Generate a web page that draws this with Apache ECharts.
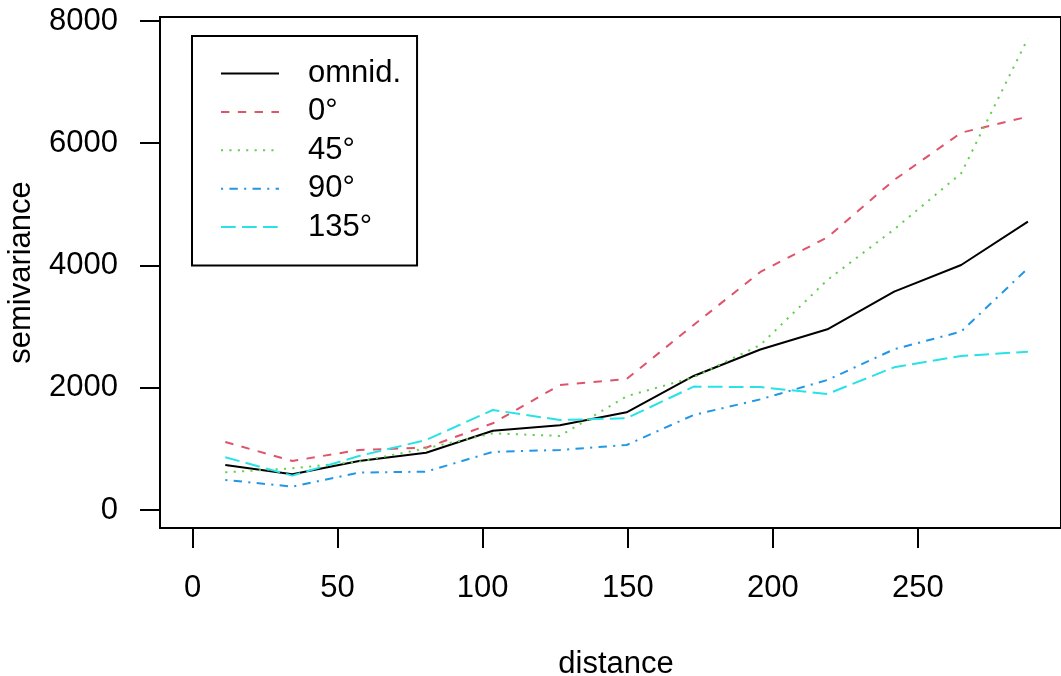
<!DOCTYPE html>
<html>
<head>
<meta charset="utf-8">
<script src="https://cdn.jsdelivr.net/npm/echarts@6/dist/echarts.min.js"></script>
<style>
html,body{margin:0;padding:0;background:#fff;}
#chart{width:1061px;height:676px;}
</style>
</head>
<body>
<div id="chart"></div>
<script>
// ---- data ----
const distances = [11.3, 34.4, 57.4, 80.5, 103.5, 126.6, 149.6, 172.7, 195.7, 218.8, 241.8, 264.9, 287.9];
const omnid   = [736, 584, 800, 937, 1295, 1385, 1598, 2192, 2625, 2956, 3572, 4008, 4717];
const dir0    = [1112, 802, 982, 1020, 1418, 2045, 2143, 3027, 3894, 4461, 5399, 6172, 6435];
const dir45   = [617, 682, 790, 1009, 1254, 1211, 1860, 2171, 2700, 3763, 4591, 5508, 7716];
const dir90   = [491, 382, 611, 627, 950, 982, 1063, 1554, 1810, 2127, 2629, 2918, 3954];
const dir135  = [862, 562, 883, 1145, 1636, 1472, 1500, 2018, 2010, 1898, 2334, 2519, 2590];
const seriesNames = ['omnid.', '0°', '45°', '90°', '135°'];
const xTicks = [0, 50, 100, 150, 200, 250];
const yTicks = [0, 2000, 4000, 6000, 8000];

const FONT = '"Liberation Sans", Arial, Helvetica, sans-serif';
const u = 2.1;
const styles = [
  {color:'#000000', type:'solid'},
  {color:'#DF536B', type:[4*u, 4*u]},
  {color:'#61D04F', type:[1*u, 3*u]},
  {color:'#2297E6', type:[1*u, 3*u, 4*u, 3*u]},
  {color:'#28E2E5', type:[7*u, 3*u]}
];
const values = [omnid, dir0, dir45, dir90, dir135];

const series = values.map((vals, i) => ({
  name: seriesNames[i],
  type: 'line',
  symbol: 'none',
  data: vals.map((v, j) => [distances[j], v]),
  lineStyle: {color: styles[i].color, width: 2, type: styles[i].type},
  itemStyle: {color: styles[i].color},
  emphasis: {disabled: true},
  animation: false
}));

const chart = echarts.init(document.getElementById('chart'), null, {renderer: 'canvas'});
chart.setOption({
  backgroundColor: '#ffffff',
  animation: false,
  grid: {
    left: 160, top: 17, width: 913, height: 511,
    show: true, borderColor: '#000', borderWidth: 2, backgroundColor: 'transparent'
  },
  xAxis: {
    type: 'value', min: -11.2, max: 299.3,
    axisLine: {show: false, onZero: false},
    splitLine: {show: false},
    axisTick: {show: true, inside: false, length: 20, customValues: xTicks,
               lineStyle: {color: '#000', width: 2}},
    axisLabel: {show: true, customValues: xTicks, margin: 60, verticalAlign: 'middle',
                formatter: v => String(v),
                fontSize: 31, fontFamily: FONT, color: '#000'}
  },
  yAxis: {
    type: 'value', min: -295, max: 8065,
    axisLine: {show: false, onZero: false},
    splitLine: {show: false},
    axisTick: {show: true, inside: false, length: 20, customValues: yTicks,
               lineStyle: {color: '#000', width: 2}},
    axisLabel: {show: true, customValues: yTicks, margin: 42,
                formatter: v => String(v),
                fontSize: 31, fontFamily: FONT, color: '#000'}
  },
  legend: {
    orient: 'vertical', left: 192, top: 36,
    padding: [22, 16, 23, 28],
    itemWidth: 58, itemHeight: 14, itemGap: 7.4,
    borderColor: '#000', borderWidth: 2, backgroundColor: '#fff',
    itemStyle: {color: 'rgba(0,0,0,0)', borderWidth: 0},
    textStyle: {fontSize: 31, lineHeight: 31, fontFamily: FONT, color: '#000',
                padding: [0, 0, 0, 24]},
    data: seriesNames,
    selectedMode: false
  },
  graphic: [
    {type: 'text', x: 616, y: 664,
     style: {text: 'distance', font: '31px ' + FONT, fill: '#000', align: 'center', verticalAlign: 'middle'}},
    {type: 'text', x: 21, y: 272.5, rotation: Math.PI / 2,
     style: {text: 'semivariance', font: '31px ' + FONT, fill: '#000', align: 'center', verticalAlign: 'middle'}}
  ],
  series: series
});
</script>
</body>
</html>
